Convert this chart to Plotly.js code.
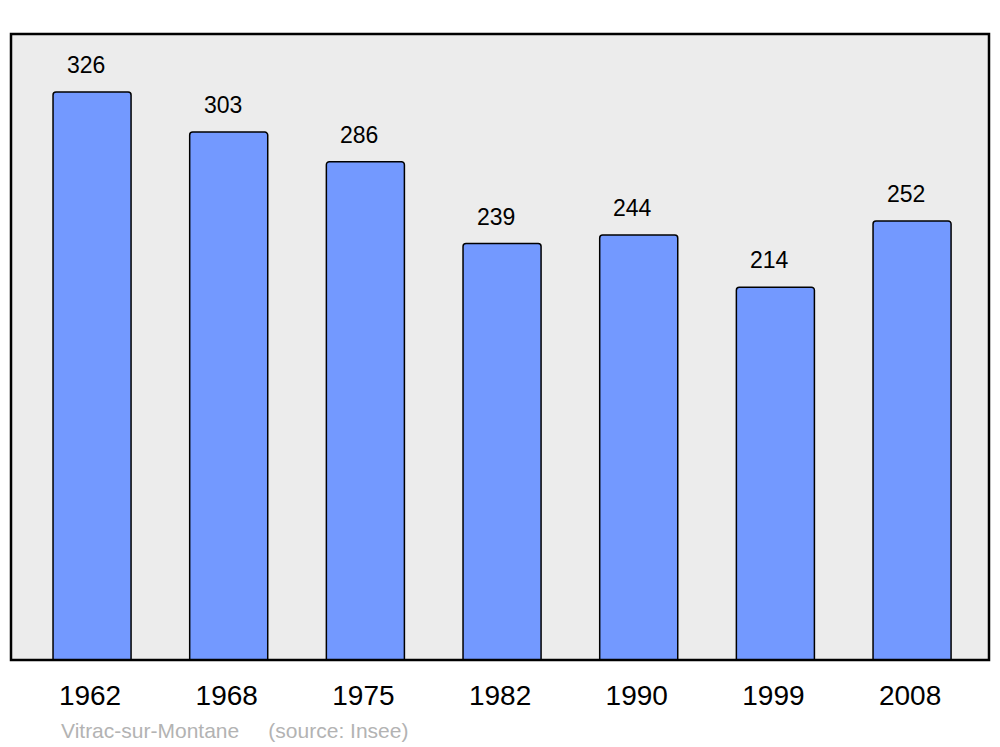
<!DOCTYPE html>
<html>
<head>
<meta charset="utf-8">
<script src="https://cdn.plot.ly/plotly-3.0.1.min.js"></script>
<style>html,body{margin:0;padding:0;background:#fff;}#chart{width:1000px;height:747px;}</style>
</head>
<body>
<div id="chart"></div>
<script>
const years = ["1962", "1968", "1975", "1982", "1990", "1999", "2008"];
const population = [326, 303, 286, 239, 244, 214, 252];
const commune = "Vitrac-sur-Montane";
const source = "(source: Insee)";

const FONT = "Liberation Sans, Arial, sans-serif";

const trace = {
  type: "bar",
  x: years,
  y: population,
  width: 0.571,
  marker: { color: "#7399ff", line: { color: "#000", width: 1.5 } },
  hoverinfo: "x+y"
};

const annotations = years.map((yr, i) => ({
  x: i, y: population[i], xref: "x", yref: "y",
  text: String(population[i]), showarrow: false,
  yanchor: "bottom", yshift: 12, xshift: -6,
  font: { family: FONT, size: 23, color: "#000" }
}));
annotations.push({
  xref: "paper", yref: "paper", x: 48/978, y: 0, xanchor: "left", yanchor: "middle",
  yshift: -70, showarrow: false,
  text: commune + "&nbsp;&nbsp;&nbsp;&nbsp;&nbsp;" + source,
  font: { family: FONT, size: 21, color: "#b3b3b3" }
});

const layout = {
  width: 1000, height: 747,
  margin: { l: 11, r: 11, t: 34, b: 87 },
  paper_bgcolor: "#ffffff",
  plot_bgcolor: "#ececec",
  barcornerradius: 3,
  showlegend: false,
  xaxis: {
    type: "category", range: [-0.593, 6.563],
    showgrid: false, zeroline: false, showline: false,
    ticks: "", ticklabelstandoff: 16, ticklabelshift: -2,
    tickfont: { family: FONT, size: 28, color: "#000" }
  },
  yaxis: {
    range: [0, 359.3], showgrid: false, zeroline: false,
    showticklabels: false, ticks: "", showline: false
  },
  shapes: [{
    type: "rect", xref: "paper", yref: "paper", x0: 0, x1: 1, y0: 0, y1: 1,
    line: { color: "#000", width: 2.5 }, fillcolor: "rgba(0,0,0,0)", layer: "above"
  }],
  annotations: annotations
};

Plotly.newPlot("chart", [trace], layout, { displayModeBar: false, staticPlot: true });
</script>
</body>
</html>
